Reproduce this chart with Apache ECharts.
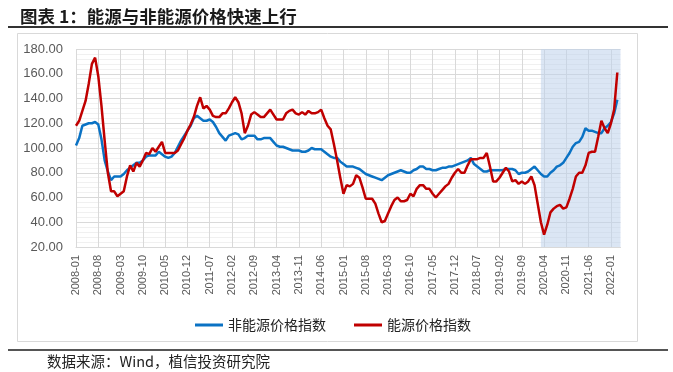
<!DOCTYPE html>
<html>
<head>
<meta charset="utf-8">
<script src="https://cdn.jsdelivr.net/npm/echarts@6/dist/echarts.min.js"></script>
<style>
html,body{margin:0;padding:0;background:#fff;}
#chart{width:673px;height:372px;}
</style>
</head>
<body>
<div id="chart"></div>
<script>
// Month categories 2008-01 .. 2022-04
var months = [];
for (var y = 2008; y <= 2022; y++) {
  for (var m = 1; m <= 12; m++) {
    if (y === 2022 && m > 4) break;
    months.push(y + '-' + (m < 10 ? '0' + m : m));
  }
}

var seriesNames = ['非能源价格指数', '能源价格指数'];

var nonEnergy = [
  102,108,118,119,120,120,121,119,107,90,81,74,
  77,77,77,79,82,84,86,88,88,90,93,94,
  94,94,97,95,93,92,93,96,101,106,110,114,
  118,124,126,124,122,122,123,121,117,112,109,106,
  110,111,112,111,107,108,110,110,110,107,107,108,
  108,108,105,102,101,101,100,99,98,98,98,97,
  97,98,100,99,99,99,97,95,93,92,92,89,
  87,85,85,85,84,83,81,79,78,77,76,75,
  74,76,78,79,80,81,82,81,80,80,82,83,
  85,85,83,83,82,82,83,84,84,85,85,86,
  87,88,89,90,92,87,85,83,81,81,82,82,
  82,82,82,83,83,83,82,79,80,80,81,83,
  85,82,79,77,77,80,82,85,86,88,92,96,
  101,104,105,109,116,114,114,113,112,112,116,118,
  121,128,139
];

var energy = [
  118,122,130,138,152,168,173,158,134,106,80,65,
  65,61,63,65,77,86,81,88,85,90,96,95,
  100,97,101,105,96,96,96,96,98,103,108,114,
  119,125,134,141,132,134,131,126,125,125,128,128,
  132,137,141,137,128,112,118,127,129,127,125,125,
  128,131,127,123,123,123,128,130,131,128,127,129,
  127,130,128,128,129,131,124,118,115,103,90,76,
  63,70,69,71,78,76,68,59,59,59,55,47,
  40,41,47,53,58,60,57,57,58,63,61,67,
  70,70,67,67,63,60,63,66,69,71,76,80,
  83,80,80,86,91,91,91,92,92,96,85,73,
  73,76,80,84,81,73,74,71,73,71,73,77,
  70,55,40,30,38,48,51,53,54,51,52,59,
  67,77,80,80,86,96,97,97,109,122,116,112,
  120,131,161
];

var yTicks = [20, 180, 20]; // min, max, interval
var shadeRange = ['2020-03', '2022-04'];

var chart = echarts.init(document.getElementById('chart'));
var option = {
  animation: false,
  backgroundColor: '#ffffff',
  title: {
    text: '图表 1：能源与非能源价格快速上行',
    left: 15, top: 3,
    textStyle: { fontFamily: 'Noto Sans CJK SC', fontSize: 17.5, fontWeight: 'bold', color: '#1a1a1a' }
  },
  graphic: [
    { type: 'line', shape: { x1: 8, y1: 27, x2: 668, y2: 27 }, style: { stroke: '#333', lineWidth: 2 } },
    { type: 'rect', shape: { x: 17.5, y: 33.5, width: 620, height: 308 }, style: { fill: 'none', stroke: '#d9d9d9', lineWidth: 1 }, z: -1 },
    { type: 'line', shape: { x1: 8, y1: 350, x2: 668, y2: 350 }, style: { stroke: '#555', lineWidth: 2 } },
    { type: 'text', left: 47, top: 354, style: { text: '数据来源：Wind，植信投资研究院', font: '14.5px "Noto Sans CJK SC"', fill: '#222' } }
  ],
  legend: {
    top: 313,
    left: 190,
    itemWidth: 28,
    itemHeight: 3,
    itemGap: 28,
    icon: 'rect',
    textStyle: { fontFamily: 'Noto Sans CJK SC', fontSize: 14, color: '#222' },
    data: seriesNames
  },
  grid: { left: 76, right: 52.5, top: 49, height: 198, containLabel: false },
  xAxis: {
    type: 'category',
    data: months,
    boundaryGap: false,
    axisLine: { show: true, lineStyle: { color: '#d9d9d9' } },
    axisTick: { show: false, interval: 6 },
    axisLabel: { interval: 6, rotate: 90, margin: 8, color: '#595959', fontSize: 11, fontFamily: 'Liberation Sans' },
    splitLine: { show: true, interval: 6, lineStyle: { color: '#d9d9d9', width: 1 } }
  },
  yAxis: {
    type: 'value',
    min: yTicks[0], max: yTicks[1], interval: yTicks[2],
    axisLine: { show: false },
    axisTick: { show: false },
    axisLabel: { color: '#595959', fontSize: 13, margin: 13, fontFamily: 'Liberation Sans', formatter: function (v) { return v.toFixed(2); } },
    splitLine: { show: true, lineStyle: { color: '#d9d9d9', width: 1 } },
    minorSplitLine: { show: true, lineStyle: { color: '#f0f0f0', width: 1 } },
    minorTick: { show: false, splitNumber: 5 }
  },
  series: [
    {
      name: seriesNames[0], type: 'line', data: nonEnergy, showSymbol: false, symbol: 'none',
      lineStyle: { color: '#0A72C4', width: 2.5 }, itemStyle: { color: '#0A72C4' }, z: 3,
      markArea: {
        silent: true,
        itemStyle: { color: 'rgba(190,210,235,0.55)' },
        data: [[{ xAxis: shadeRange[0] }, { xAxis: shadeRange[1] }]]
      }
    },
    {
      name: seriesNames[1], type: 'line', data: energy, showSymbol: false, symbol: 'none',
      lineStyle: { color: '#C00000', width: 2.5 }, itemStyle: { color: '#C00000' }, z: 4
    }
  ]
};
chart.setOption(option);
</script>
</body>
</html>
